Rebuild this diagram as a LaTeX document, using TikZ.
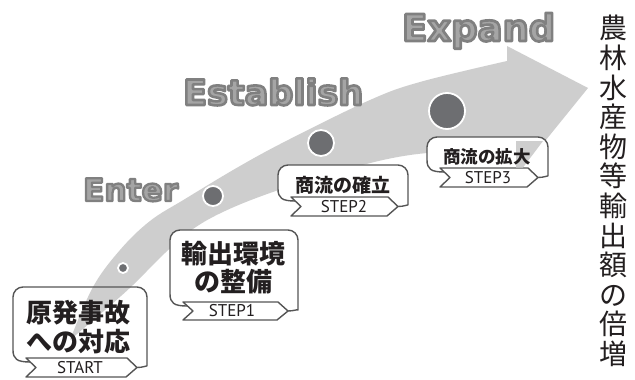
\documentclass[tikz,border=0pt]{standalone}
\usepackage{fontspec}
\usepackage{graphicx}
\setmainfont{PT Sans}
\newfontfamily\cjk{Noto Sans CJK JP}
\newfontfamily\wafont{DejaVu Sans}
\newfontfamily\lblfont{PT Sans}
\definecolor{bandc}{RGB}{206,206,206}
\definecolor{framec}{RGB}{85,85,85}
\definecolor{dotc}{RGB}{109,110,113}
\definecolor{txtc}{RGB}{35,31,32}
\definecolor{wafill}{RGB}{165,165,165}

\newcommand\stepframe[7]{%
  \pgfmathsetmacro\mymid{(#5+#6)/2}
  \path[frame, fill=#7] ({#2+17},{#5+4}) .. controls ({#2+4},{#5+4}) and (#2,{#5+1}) .. (#2,{#5-8})
     [rounded corners=10pt] -- (#2,#4) -- (#3,#4) -- (#3,{#5-2})
     [sharp corners] .. controls (#3,{\mymid-2}) and ({#3-4},\mymid) .. ({#3-10},\mymid);
  \path[frame, fill=white] ({#2+13},#5) -- ({#3-20},#5) -- ({#3-10},\mymid) -- ({#3-21},#6)
     -- ({#2+13},#6) -- ({#2+23},\mymid) -- cycle;
}

% outlined (stroked + filled) word
\newcommand\wordart[5]{%
  \node[wabox, text=wafill] (#1) at (#2,#3)
    {\resizebox{#4}{!}{\special{pdf:literal direct 2 Tr 2.2 w 0.5 0.5 0.5 RG 1 j}#5\special{pdf:literal direct 0 Tr}}};
}

\begin{document}
\begin{tikzpicture}[x=1pt,y=-1pt,
  frame/.style={draw=framec, line width=1.4pt, line join=round},
  dotn/.style={circle, fill=dotc, draw=white, line width=1.8pt, inner sep=0pt},
  cjkbig/.style={text=txtc, align=center, inner sep=0pt, font=\cjk\bfseries\fontsize{26}{29}\selectfont},
  cjkmid/.style={text=txtc, inner sep=0pt, font=\cjk\bfseries\fontsize{19}{19}\selectfont},
  cjksmall/.style={text=txtc, inner sep=0pt, font=\cjk\bfseries\fontsize{17.5}{17.5}\selectfont},
  lbl/.style={text=txtc, inner sep=0pt, font=\lblfont\fontsize{17}{17}\selectfont},
  wabox/.style={anchor=base west, inner sep=0pt, font=\wafont\bfseries\fontsize{30}{30}\selectfont}
]
\useasboundingbox[fill=white] (0,0) rectangle (635,380);

% curved band arrow
\fill[bandc] (70,340) -- plot[smooth,tension=0.6] coordinates {(70,340) (93,287) (120,250) (150,221) (185,199) (240,166) (290,139) (370,100) (420,82) (507,61)}
  -- (507,46) -- (588,88) -- (520,172) -- (517,147)
  -- plot[smooth,tension=0.6] coordinates {(517,147) (410,155) (330,174) (270,193) (225,211) (193,229) (165,253) (133,285) (105,310) (70,340)} -- cycle;

% boxes
\stepframe{f0}{13}{147}{287}{358}{377}{none}
\stepframe{f1}{170}{298}{230}{302}{320}{white}
\stepframe{f2}{278}{408}{165}{197}{216}{white}
\stepframe{f3}{427}{548}{137}{168}{187}{white}
\fill[bandc] (516,141) -- (543,141) -- (523,167.5) -- (516,167.5) -- cycle;

% dots
\node[dotn, minimum size=10pt] (d0) at (123,268) {};
\node[dotn, minimum size=20pt] (d1) at (213,196) {};
\node[dotn, minimum size=26pt] (d2) at (321,143) {};
\node[dotn, minimum size=36pt] (d3) at (447,111) {};

% box texts
\node[cjkbig] (t0) at (79,327) {原発事故\\への対応};
\node[cjkbig, font=\cjk\bfseries\fontsize{26}{28}\selectfont] (t1) at (233,268) {輸出環境\\の整備};
\node[cjkmid] (t2) at (343,185.5) {商流の確立};
\node[cjksmall] (t3) at (487,157) {商流の拡大};

\node[lbl] (l0) at (80,367.5) {START};
\node[lbl] (l1) at (232,311) {STEP1};
\node[lbl] (l2) at (344,206.5) {STEP2};
\node[lbl] (l3) at (488,177.5) {STEP3};

% word art
\wordart{enter}{83}{201}{95pt}{Enter}
\wordart{establish}{183}{105}{180pt}{Establish}
\wordart{expand}{402}{41}{153pt}{Expand}

% vertical title
\node[font=\cjk\fontsize{28}{29.6}\selectfont, text=txtc, align=center, inner sep=0pt] (title) at (613,191)
  {農\\林\\水\\産\\物\\等\\輸\\出\\額\\の\\倍\\増};
\end{tikzpicture}
\end{document}
